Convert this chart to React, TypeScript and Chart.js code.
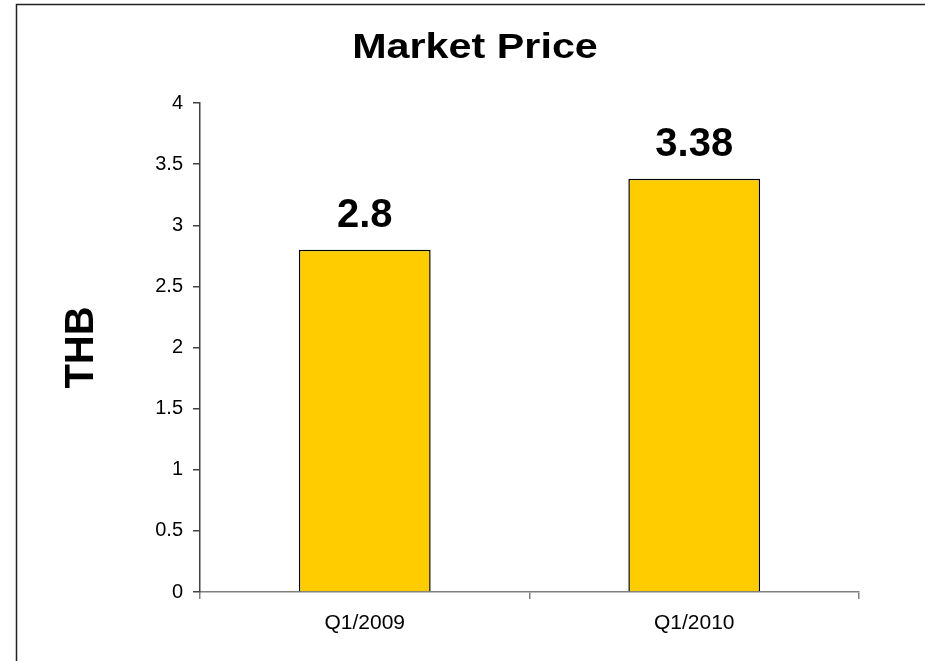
import React, { useEffect, useRef } from "react";
import { Chart, registerables } from "chart.js";

Chart.register(...registerables);

const categories = ["Q1/2009", "Q1/2010"];
const marketPrice = [2.8, 3.38];
const valueLabels = ["2.8", "3.38"];
const chartTitle = "Market Price";
const yAxisTitle = "THB";
const yMin = 0;
const yMax = 4;
const yStep = 0.5;

const FONT = "Arial, 'Liberation Sans', Helvetica, sans-serif";

const decorPlugin = {
  id: "decor",
  beforeDraw(chart: any) {
    const ctx = chart.ctx;
    ctx.save();
    ctx.fillStyle = "#ffffff";
    ctx.fillRect(0, 0, chart.width, chart.height);
    ctx.strokeStyle = "#222222";
    ctx.lineWidth = 1.5;
    ctx.strokeRect(16.5, 4.5, chart.width + 50, chart.height + 50);
    ctx.restore();
  },
  afterDraw(chart: any) {
    const ctx = chart.ctx;
    const area = chart.chartArea;
    ctx.save();
    ctx.fillStyle = "#000000";
    // title (slightly wide lettering as in the reference)
    ctx.save();
    ctx.font = `bold 35px ${FONT}`;
    ctx.textAlign = "center";
    ctx.textBaseline = "alphabetic";
    ctx.translate(475, 58);
    ctx.scale(1.18, 1);
    ctx.fillText(chartTitle, 0, 0);
    ctx.restore();
    // value labels
    ctx.font = `bold 40px ${FONT}`;
    ctx.textAlign = "center";
    ctx.textBaseline = "alphabetic";
    const meta = chart.getDatasetMeta(0);
    meta.data.forEach((bar: any, i: number) => {
      ctx.fillText(valueLabels[i], bar.x, bar.y - 23);
    });
    // y axis title
    ctx.font = `bold 40px ${FONT}`;
    ctx.translate(93, (area.top + area.bottom) / 2);
    ctx.rotate(-Math.PI / 2);
    ctx.textAlign = "center";
    ctx.fillText(yAxisTitle, 0, 0);
    ctx.restore();
  },
};

export default function App() {
  const ref = useRef<HTMLCanvasElement | null>(null);
  useEffect(() => {
    if (!ref.current) return;
    const chart = new Chart(ref.current, {
      type: "bar",
      data: {
        labels: categories,
        datasets: [
          {
            data: marketPrice,
            backgroundColor: "#FFCC00",
            borderColor: "#000000",
            borderWidth: 1.5,
            barPercentage: 0.4,
            categoryPercentage: 1.0,
          },
        ],
      },
      options: {
        responsive: false,
        animation: false,
        layout: { padding: { left: 0, top: 103, right: 66, bottom: 0 } },
        plugins: {
          legend: { display: false },
          title: { display: false },
          tooltip: { enabled: false },
        },
        scales: {
          x: {
            afterFit: (s: any) => {
              s.height = 69;
            },
            grid: {
              drawOnChartArea: false,
              drawTicks: true,
              tickLength: 7,
              color: "#7f7f7f",
              lineWidth: 1.5,
            },
            border: { display: true, color: "#7f7f7f", width: 1.5 },
            ticks: {
              color: "#000000",
              font: { family: FONT, size: 21 },
              padding: 12,
            },
          },
          y: {
            min: yMin,
            max: yMax,
            afterFit: (s: any) => {
              s.width = 200;
            },
            grid: {
              drawOnChartArea: false,
              drawTicks: true,
              tickLength: 7,
              color: "#404040",
              lineWidth: 1.5,
            },
            border: { display: true, color: "#404040", width: 1.5 },
            ticks: {
              stepSize: yStep,
              color: "#000000",
              font: { family: FONT, size: 20 },
              padding: 10,
              callback: (v: any) => String(v),
            },
          },
        },
      },
      plugins: [decorPlugin],
    });
    return () => chart.destroy();
  }, []);
  return (
    <div style={{ position: "absolute", left: 0, top: 0, width: 925, height: 661 }}>
      <canvas ref={ref} width={925} height={661} />
    </div>
  );
}
